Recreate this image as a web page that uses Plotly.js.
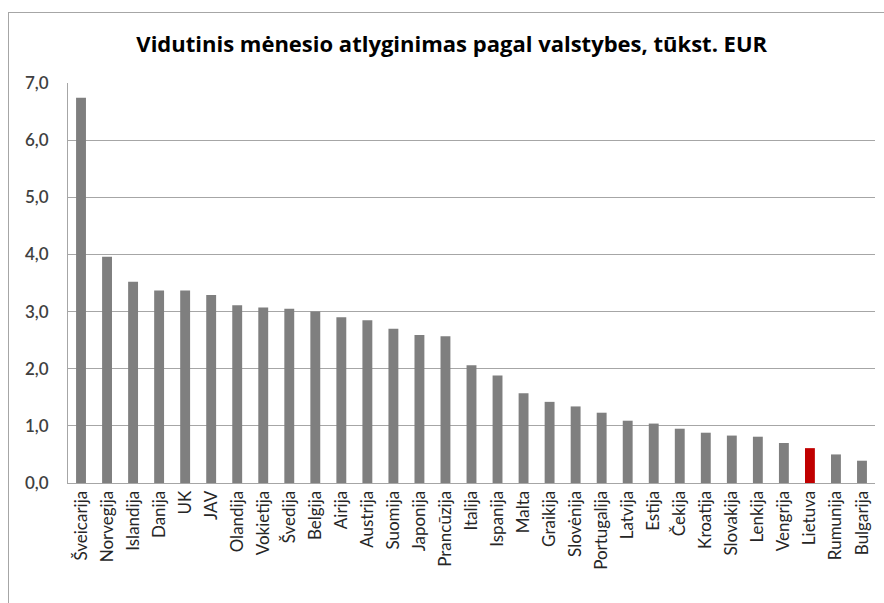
<!DOCTYPE html>
<html>
<head>
<meta charset="utf-8">
<script src="https://cdn.plot.ly/plotly-3.0.1.min.js"></script>
<style>
  html, body { margin: 0; padding: 0; background: #fff; }
  #wrap { position: relative; width: 884px; height: 603px; }
  #chart { position: absolute; left: 0; top: 0; width: 884px; height: 603px; }
  #frame { position: absolute; left: 8px; top: 12px; width: 900px; height: 620px; border: 1px solid #a6a6a6; pointer-events: none; }
</style>
</head>
<body>
<div id="wrap">
  <div id="chart"></div>
  <div id="frame"></div>
</div>
<script>
const countries = ["Šveicarija","Norvegija","Islandija","Danija","UK","JAV","Olandija","Vokietija","Švedija","Belgija","Airija","Austrija","Suomija","Japonija","Prancūzija","Italija","Ispanija","Malta","Graikija","Slovėnija","Portugalija","Latvija","Estija","Čekija","Kroatija","Slovakija","Lenkija","Vengrija","Lietuva","Rumunija","Bulgarija"];
const wages = [6.74,3.96,3.52,3.37,3.37,3.29,3.11,3.07,3.05,3.00,2.90,2.85,2.70,2.59,2.57,2.06,1.88,1.57,1.42,1.34,1.23,1.09,1.04,0.95,0.88,0.83,0.81,0.70,0.61,0.50,0.39];
const highlight = "Lietuva";
const yTicks = [0,1,2,3,4,5,6,7];

const colors = countries.map(c => c === highlight ? "#c00000" : "#7f7f7f");

const data = [{
  type: "bar",
  x: countries,
  y: wages,
  marker: { color: colors, line: { width: 0 } },
  hoverinfo: "x+y"
}];

const font = "Lato, 'Noto Sans', sans-serif";

const layout = {
  width: 884, height: 603,
  margin: { l: 68, r: 9, t: 83, b: 120 },
  paper_bgcolor: "rgba(0,0,0,0)",
  plot_bgcolor: "#fff",
  separators: ",.",
  showlegend: false,
  bargap: 0.62,
  title: {
    text: "<b>Vidutinis mėnesio atlyginimas pagal valstybes, tūkst. EUR</b>",
    font: { family: "'Open Sans', sans-serif", size: 22, color: "#000" },
    x: 0.511, xanchor: "center", xref: "container", y: 0.927, yanchor: "middle"
  },
  xaxis: {
    type: "category",
    tickangle: -90,
    tickfont: { family: font, size: 17, color: "#262626" },
    showline: true, linecolor: "#a6a6a6", linewidth: 1,
    showgrid: false, ticks: "", automargin: false
  },
  yaxis: {
    range: [0, 7],
    tickvals: yTicks,
    tickformat: ".1f",
    tickfont: { family: "Lato, sans-serif", size: 17, color: "#404040", weight: 600 },
    showline: true, linecolor: "#a6a6a6", linewidth: 1,
    showgrid: true, gridcolor: "#a6a6a6", gridwidth: 1,
    zeroline: false, ticks: "", ticklabelstandoff: 15, automargin: false
  }
};

Plotly.newPlot("chart", data, layout, { displayModeBar: false, staticPlot: true });
</script>
</body>
</html>
